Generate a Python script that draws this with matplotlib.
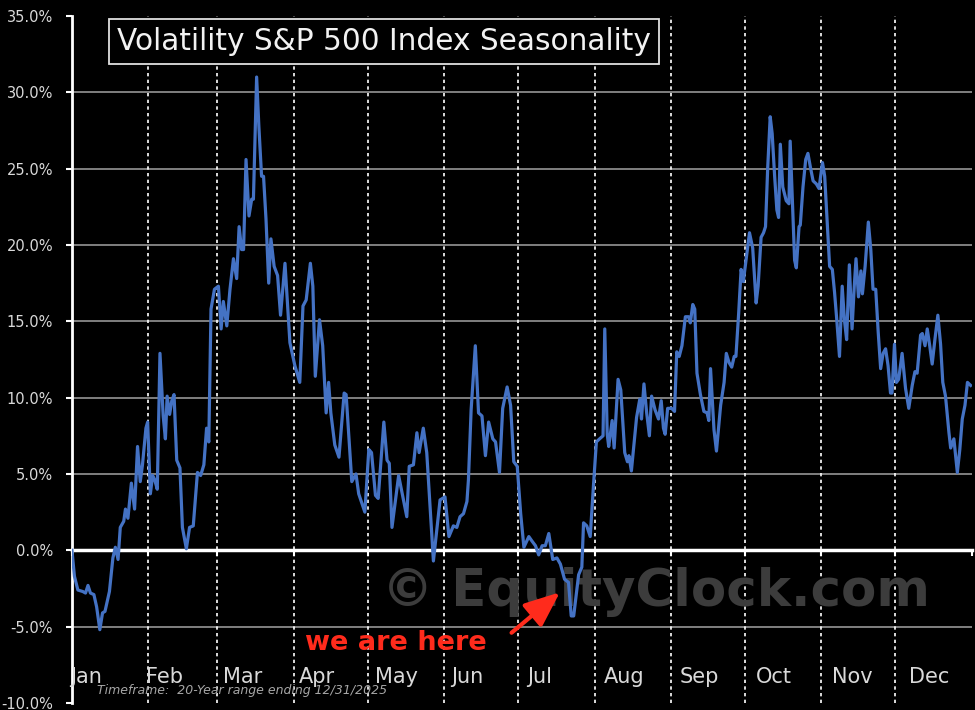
import numpy as np
import matplotlib
matplotlib.use('Agg')
import matplotlib.pyplot as plt

# Сезонность индекса волатильности (день года, % изменения)
days = [0, 1.0, 2.4, 4.4, 5.5, 6.5, 7.5, 8.9, 10.0, 11.3, 12.4, 13.4, 15.2, 16.6, 17.6, 18.7,
        19.6, 21.0, 21.7, 22.7, 24.1, 25.4, 26.6, 27.7, 28.6, 30.0, 30.7,
        31.8, 32.7, 33.6, 34.6, 35.7, 37.0, 37.9, 38.6, 39.6, 40.5, 41.4, 42.5, 43.8, 44.8,
        46.4, 47.7, 49.2, 50.9, 52.2, 53.5, 54.6, 55.5, 56.4, 57.8,
        59.4, 60.5, 61.4, 62.8, 64.1, 65.5, 66.8, 67.8, 68.8, 69.6, 70.6, 71.8, 72.9, 73.6,
        74.9, 75.8, 76.9, 77.7, 78.7, 79.8, 80.7, 82.0, 83.4, 84.6, 86.4, 88.4,
        90.4, 92.4, 93.7, 95.0, 96.7, 97.7, 98.7, 100.4, 101.7, 103.1, 104.1, 105.0, 106.6,
        108.3, 110.4, 111.2, 113.5, 115.2, 116.3, 118.8,
        120.4, 121.5, 123.1, 124.2, 126.5, 127.8, 128.7, 129.8, 132.5, 135.8, 136.8, 138.5,
        139.9, 140.8, 142.5, 143.9, 146.6, 149.3,
        151.3, 152.9, 154.7, 156.1, 157.4, 158.8, 160.2, 160.8, 161.9, 163.6, 164.9, 166.3,
        167.7, 169.0, 170.7, 171.8, 173.4, 174.7, 176.5, 177.9, 179.2, 180.6,
        182.0, 183.3, 185.3, 186.6, 188.0, 189.3, 190.7, 192.0, 193.4, 195.0, 196.7, 198.1,
        199.8, 201.4, 202.5, 203.5, 205.5, 206.8, 207.5, 208.8, 210.2, 211.5,
        212.7, 214.0, 215.4, 216.1, 217.1, 217.7, 219.1, 219.9, 221.5, 222.6, 224.2, 225.3,
        225.9, 226.9, 229.0, 230.3, 231.0, 232.0, 233.1, 234.2, 235.1, 236.5, 237.9, 239.0,
        239.9, 240.6, 241.6,
        243.2, 244.4, 245.3, 246.3, 247.4, 248.8, 250.1, 250.8, 251.8, 252.6, 253.5, 254.9,
        256.3, 257.6, 258.3, 259.0, 260.4, 261.4, 263.1, 264.5, 265.4, 266.5, 267.6, 268.6,
        269.3, 270.4, 271.4, 272.3,
        274.8, 276.1, 277.5, 278.3, 279.5, 280.5, 281.3, 282.2, 283.2, 284.0, 285.0, 285.9,
        286.6, 287.3, 288.3, 289.7, 290.8, 291.3, 292.2, 293.1, 293.8, 294.9, 295.4, 296.5,
        297.6, 298.5, 299.5, 300.6, 301.9, 303.0,
        304.4, 305.3, 306.2, 307.3, 308.4, 309.3, 310.2, 311.3, 312.4, 313.3, 314.2, 315.3,
        316.4, 317.3, 318.0, 319.0, 320.0, 320.6, 321.7, 323.0, 324.0, 324.9, 326.0, 327.0,
        328.0, 329.0, 330.0, 331.0, 332.0, 332.6, 333.6,
        334.4, 335.3, 336.7, 338.1, 339.4, 340.8, 341.9, 342.8, 344.2, 344.9, 346.0, 346.9,
        347.9, 348.9, 350.0, 351.2, 352.3, 353.2, 354.3, 355.7, 356.4, 357.7, 359.1, 360.1,
        361.1, 362.2, 363.2, 364.5]

values = [0, -1.7, -2.6, -2.7, -2.8, -2.3, -2.8, -2.9, -3.7, -5.2, -4.1, -4.0, -2.7, -0.5, 0.2, -0.6,
          1.5, 1.9, 2.7, 2.1, 4.4, 2.7, 6.8, 4.5, 5.6, 8.0, 8.4,
          3.7, 4.9, 4.6, 4.0, 12.9, 8.8, 7.3, 10.1, 8.9, 9.8, 10.2, 5.9, 5.4, 1.5,
          0.1, 1.5, 1.6, 5.1, 4.9, 5.6, 8.0, 7.1, 15.8, 17.1,
          17.3, 14.5, 16.3, 14.7, 17.1, 19.1, 17.8, 21.2, 19.7, 19.7, 25.6, 21.9, 23.0, 23.0,
          31.0, 27.8, 24.5, 24.5, 21.7, 17.5, 20.4, 18.6, 18.0, 15.4, 18.8, 13.6,
          12.1, 11.0, 16.0, 16.4, 18.8, 17.3, 11.4, 15.1, 13.4, 9.0, 11.0, 9.0, 6.9,
          6.1, 10.3, 10.2, 4.5, 5.0, 3.7, 2.5,
          6.6, 6.4, 3.6, 3.4, 8.4, 5.9, 5.7, 1.5, 4.9, 2.2, 5.5, 5.6,
          7.7, 6.4, 8.0, 6.4, -0.7, 3.3,
          3.5, 0.9, 1.6, 1.5, 2.2, 2.4, 3.2, 4.6, 9.2, 13.4, 9.0, 8.8,
          6.2, 8.4, 7.3, 7.1, 5.1, 9.3, 10.7, 9.5, 5.8, 5.5,
          2.4, 0.2, 0.9, 0.6, 0.3, -0.3, 0.3, 0.3, 1.1, -0.6, -0.5, -0.9,
          -1.9, -2.1, -4.3, -4.3, -1.6, -1.1, 1.8, 1.6, 0.9, 4.2,
          7.1, 7.3, 7.5, 14.5, 7.6, 6.8, 8.5, 6.7, 11.2, 10.5, 6.4, 5.8,
          6.2, 5.2, 8.7, 9.9, 8.6, 10.9, 9.0, 7.5, 10.1, 9.2, 8.6, 9.8,
          8.0, 7.6, 9.3,
          9.3, 9.1, 13.0, 12.7, 13.4, 15.3, 15.3, 14.9, 16.1, 15.8, 11.6, 10.2,
          9.1, 9.0, 8.5, 11.9, 7.9, 6.5, 9.5, 11.0, 12.9, 12.3, 12.0, 12.7,
          12.7, 15.5, 18.4, 17.6,
          20.8, 19.8, 16.2, 17.3, 20.5, 20.8, 21.2, 25.1, 28.4, 27.3, 24.5, 22.3,
          21.8, 26.6, 23.8, 22.9, 22.7, 26.8, 22.9, 19.0, 18.5, 21.2, 21.3, 23.8,
          25.6, 26.0, 25.1, 24.2, 24.0, 23.7,
          25.4, 24.5, 21.8, 18.6, 18.4, 16.9, 15.1, 12.7, 17.3, 15.1, 13.8, 18.7,
          14.5, 17.3, 19.1, 16.6, 18.3, 16.8, 18.6, 21.5, 19.7, 17.1, 17.1, 14.3,
          11.9, 12.9, 13.2, 12.1, 10.3, 10.3, 13.5,
          11.0, 11.2, 12.9, 10.6, 9.3, 10.8, 11.7, 11.6, 14.1, 14.2, 13.4, 14.5,
          13.4, 12.2, 13.8, 15.4, 13.5, 11.0, 10.1, 7.7, 6.7, 7.3, 5.1, 6.6,
          8.6, 9.5, 11.0, 10.8]

months = ['Jan', 'Feb', 'Mar', 'Apr', 'May', 'Jun', 'Jul', 'Aug', 'Sep', 'Oct', 'Nov', 'Dec']
month_start = [0, 31, 59, 90, 120, 151, 181, 212, 243, 273, 304, 334, 365]
y_ticks = [-10, -5, 0, 5, 10, 15, 20, 25, 30, 35]

# "мы здесь" - текущая точка (день, значение)
here_day, here_val = 197.9, -2.75

fig = plt.figure(figsize=(9.75, 7.1), dpi=100, facecolor='black')
ax = fig.add_axes([0.0738, 0.0099, 0.923, 0.9676])
ax.set_facecolor('black')

# сетка
for v in y_ticks:
    if v not in (0, -10, 35):
        ax.axhline(v, color='#8a8a8a', lw=1.3, zorder=0.5)
for d in month_start[1:12]:
    ax.axvline(d, color='white', ls=(0, (2, 2)), lw=1.2, zorder=1)

# водяной знак
ax.text(237, -3.66, '\u00a9 EquityClock.com', color='#3c3c3c', fontsize=37,
        weight='bold', ha='center', va='baseline', zorder=1.5)

ax.plot(days, values, color='#4472C4', lw=2.3, solid_joinstyle='round', zorder=4)

ax.set_xlim(0, 365)
ax.set_ylim(-10, 35)
ax.set_yticks(y_ticks)
ax.set_yticklabels([f'{v:.1f}%' for v in y_ticks])
ax.set_xticks(month_start)
ax.tick_params(axis='y', colors='white', labelcolor='#d9d9d9', labelsize=10.5,
               length=4, width=1.5, pad=9.5)
ax.tick_params(axis='x', colors='white', length=4, width=1.5, labelbottom=False)

for s in ['top', 'right']:
    ax.spines[s].set_visible(False)
ax.spines['left'].set_color('white')
ax.spines['left'].set_linewidth(2)
ax.spines['bottom'].set_position(('data', 0))
ax.spines['bottom'].set_color('white')
ax.spines['bottom'].set_linewidth(2.5)
ax.spines['bottom'].set_zorder(3)

# подписи месяцев внутри графика
for i, m in enumerate(months):
    ax.text(-0.002 + i * 0.0847, -8.7, m, transform=ax.get_yaxis_transform(),
            color='#d9d9d9', fontsize=15, va='baseline', ha='left', zorder=5)

# заголовок
ax.text(0.05, 0.984, 'Volatility S&P 500 Index Seasonality', transform=ax.transAxes,
        ha='left', va='top', fontsize=21.3, color='#f2f2f2', zorder=6,
        bbox=dict(boxstyle='square,pad=0.28', fc='black', ec='#e0e0e0', lw=1.3))

# стрелка
ax.text(94.5, -6.5, 'we are here', color='#ff2b1c', fontsize=19.5, weight='bold',
        va='baseline', ha='left', zorder=6)
ax.annotate('', xy=(here_day, here_val), xytext=(178.3, -5.4),
            arrowprops=dict(arrowstyle='-|>,head_length=1.2,head_width=0.5',
                            color='#ff2b1c', lw=3, mutation_scale=18,
                            shrinkA=0, shrinkB=0), zorder=6)

ax.text(0.028, 0.013, 'Timeframe:  20-Year range ending 12/31/2025', transform=ax.transAxes,
        fontsize=9, style='italic', color='#a6a6a6', va='baseline', zorder=6)

fig.savefig('out.png', dpi=100, facecolor='black')
